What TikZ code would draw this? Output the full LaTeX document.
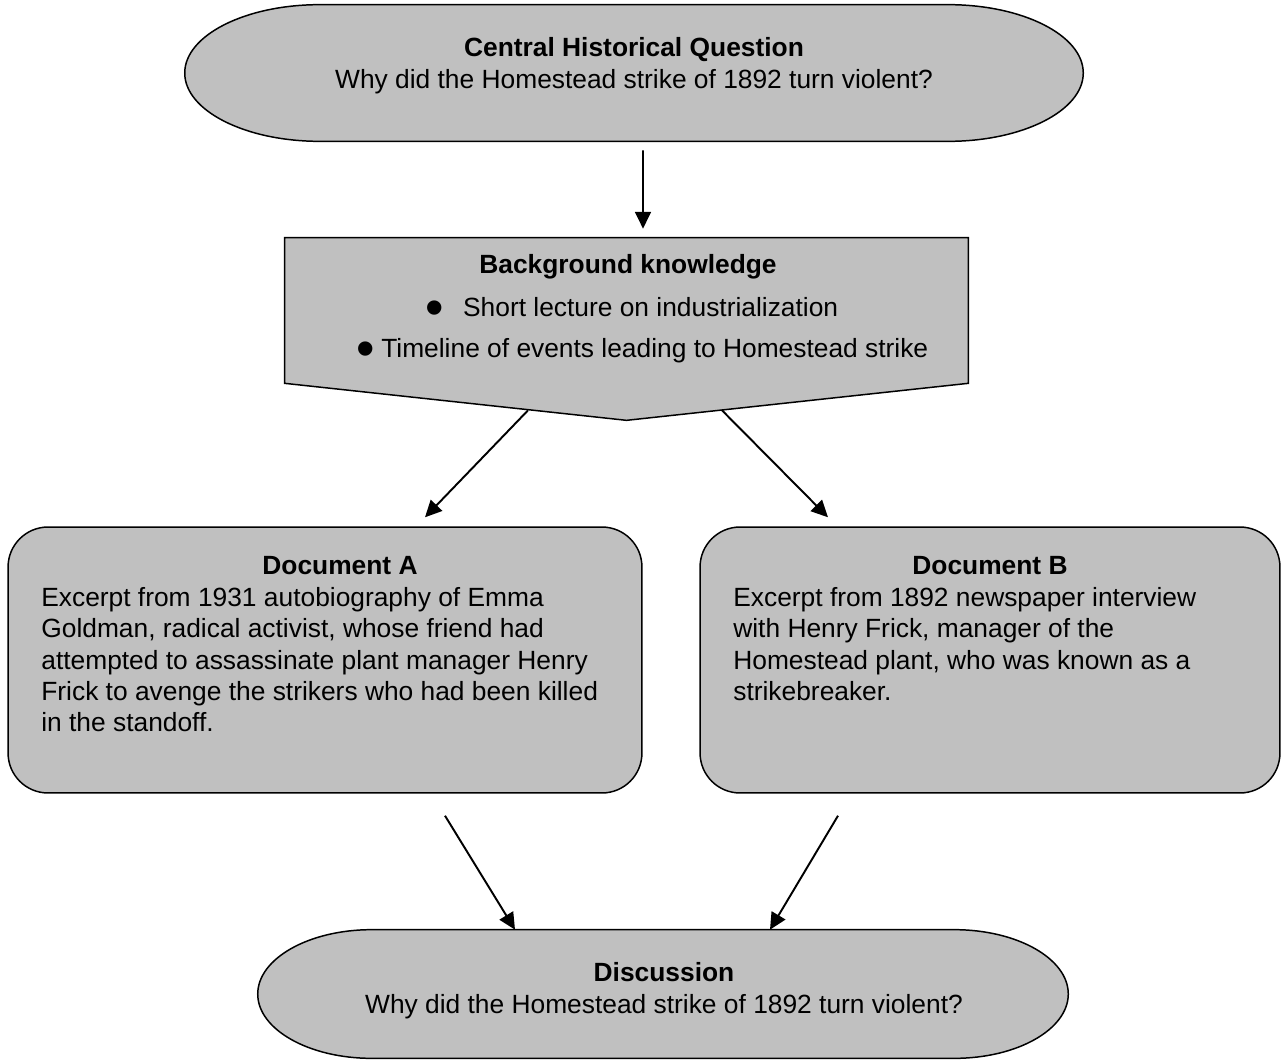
\documentclass[tikz,border=0pt]{standalone}
\usepackage{fontspec}
\setmainfont{Liberation Sans}
\usetikzlibrary{arrows.meta, positioning, calc}
\definecolor{shade}{RGB}{192,192,192}
\newcommand{\bigdot}{\raisebox{-5.5pt}{\fontsize{30}{18}\selectfont\textbullet}}

\begin{document}
\begin{tikzpicture}[
    x=0.02cm, y=-0.02cm,
    font=\fontsize{15}{18}\selectfont,
    >={Triangle[length=9.5pt, width=9pt]},
    frame/.style={rectangle, inner sep=0pt},
    outline/.style={draw=black, line width=0.85pt, fill=shade},
    doc/.style={outline, rounded corners=0.8cm, minimum height=5.32cm},
    head/.style={font=\fontsize{15}{18}\selectfont\bfseries, inner sep=0pt},
    body/.style={align=left, anchor=north west, inner sep=0pt, font=\fontsize{15}{17.8}\selectfont},
    item/.style={anchor=base west, inner sep=0pt},
    link/.style={->, line width=1.1pt}
]
\useasboundingbox (0, 0) rectangle (1284, 1061);

% Central question
\node[frame, minimum width=17.96cm, minimum height=2.72cm] (cq) at (634, 73) {};
\draw[outline] ($(cq.north west)+(135,0)$) -- ($(cq.north east)+(-135,0)$)
    .. controls ($(cq.north east)+(-60.4,0)$) and ($(cq.east)+(0,-37.6)$) .. (cq.east)
    .. controls ($(cq.east)+(0,37.6)$) and ($(cq.south east)+(-60.4,0)$) .. ($(cq.south east)+(-135,0)$)
    -- ($(cq.south west)+(135,0)$)
    .. controls ($(cq.south west)+(60.4,0)$) and ($(cq.west)+(0,37.6)$) .. (cq.west)
    .. controls ($(cq.west)+(0,-37.6)$) and ($(cq.north west)+(60.4,0)$) .. cycle;
\node[align=center, inner sep=0pt] (cqtext) at (634, 66) {\textbf{Central Historical Question} \\ Why did the Homestead strike of 1892 turn violent?};

% Background knowledge
\node[frame, minimum width=13.66cm, minimum height=3.64cm] (bg) at (626.5, 329) {};
\draw[outline] (bg.north west) -- (bg.north east) -- ($(bg.south east)+(0,-37)$)
    -- (bg.south) -- ($(bg.south west)+(0,-37)$) -- cycle;
\node[head] (bghead) at (628, 267) {Background knowledge};
\node[item] (bgitemA) at (425, 316) {\bigdot\hspace{11pt}Short lecture on industrialization};
\node[item] (bgitemB) at (356, 357) {\bigdot\hspace{3.7pt}Timeline of events leading to Homestead strike};

% Documents
\node[doc, minimum width=12.68cm] (docA) at (325, 660) {};
\node[head] (docAhead) at (340, 566) {Document A};
\node[body] (docAbody) at (41, 587) {Excerpt from 1931 autobiography of Emma \\ Goldman, radical activist, whose friend had \\ attempted to assassinate plant manager Henry \\ Frick to avenge the strikers who had been killed \\ in the standoff.};

\node[doc, minimum width=11.6cm] (docB) at (990, 660) {};
\node[head] (docBhead) at (990, 566) {Document B};
\node[body] (docBbody) at (733, 587) {Excerpt from 1892 newspaper interview \\ with Henry Frick, manager of the \\ Homestead plant, who was known as a \\ strikebreaker.};

% Discussion
\node[frame, minimum width=16.2cm, minimum height=2.56cm] (disc) at (663, 994) {};
\draw[outline] ($(disc.north west)+(114,0)$) -- ($(disc.north east)+(-114,0)$)
    .. controls ($(disc.north east)+(-51,0)$) and ($(disc.east)+(0,-35.3)$) .. (disc.east)
    .. controls ($(disc.east)+(0,35.3)$) and ($(disc.south east)+(-51,0)$) .. ($(disc.south east)+(-114,0)$)
    -- ($(disc.south west)+(114,0)$)
    .. controls ($(disc.south west)+(51,0)$) and ($(disc.west)+(0,35.3)$) .. (disc.west)
    .. controls ($(disc.west)+(0,-35.3)$) and ($(disc.north west)+(51,0)$) .. cycle;
\node[align=center, inner sep=0pt] (disctext) at (664, 990.5) {\textbf{Discussion} \\ Why did the Homestead strike of 1892 turn violent?};

% Arrows
\draw[link] ($(cq.south)+(9,9)$) -- ($(bg.north)+(16.5,-9)$);
\draw[link] ($(bg.south)+(-98.5,-10)$) -- ($(docA.north)+(100,-9)$);
\draw[link] ($(bg.south)+(95.5,-10)$) -- ($(docB.north)+(-162,-9)$);
\draw[link] ($(docA.south)+(120,22)$) -- ($(disc.north)+(-148,0)$);
\draw[link] ($(docB.south)+(-152,22)$) -- ($(disc.north)+(107,0)$);

\end{tikzpicture}
\end{document}
